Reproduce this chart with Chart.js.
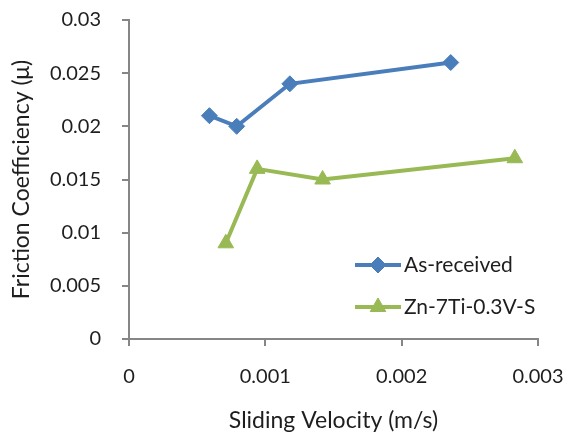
<!DOCTYPE html>
<html>
<head>
<meta charset="utf-8">
<script src="https://cdn.jsdelivr.net/npm/chart.js@4.4.1/dist/chart.umd.min.js"></script>
<style>
  html, body { margin: 0; padding: 0; background: #fff; }
  #wrap { width: 566px; height: 435px; position: relative; }
</style>
</head>
<body>
<div id="wrap"><canvas id="frictionChart"></canvas></div>
<script>
  // values
  const seriesNames = ["As-received", "Zn-7Ti-0.3V-S"];
  const asReceivedVelocity = [0.00059, 0.00079, 0.00118, 0.00236];
  const asReceivedFriction = [0.021, 0.020, 0.024, 0.026];
  const alloyVelocity = [0.00071, 0.00094, 0.00142, 0.00283];
  const alloyFriction = [0.009, 0.016, 0.015, 0.017];
  const xTicks = [0, 0.001, 0.002, 0.003];
  const yTicks = [0, 0.005, 0.01, 0.015, 0.02, 0.025, 0.03];

  const FONT = "Lato, 'Open Sans', sans-serif";
  const TEXT = "#1e1e1e";
  const AXIS_GRAY = "#868686";
  const BLUE = "#4A7EBB";
  const GREEN = "#98B954";

  function toPoints(xs, ys) {
    return xs.map((x, i) => ({ x: x, y: ys[i] }));
  }

  // legend drawn inside the plot, like the Excel original
  const insideLegend = {
    id: "insideLegend",
    afterDraw(chart) {
      const { ctx } = chart;
      const rows = [265, 307];
      chart.data.datasets.forEach((ds, i) => {
        const y = rows[i];
        ctx.save();
        ctx.strokeStyle = ds.borderColor;
        ctx.fillStyle = ds.borderColor;
        ctx.lineWidth = ds.borderWidth;
        ctx.beginPath();
        ctx.moveTo(355, y);
        ctx.lineTo(401, y);
        ctx.stroke();
        ctx.lineWidth = 1;
        Chart.helpers.drawPoint(ctx, {
          pointStyle: ds.pointStyle,
          radius: ds.pointRadius,
          borderWidth: 1
        }, 378, y);
        ctx.fillStyle = TEXT;
        ctx.font = "21px " + FONT;
        ctx.textAlign = "left";
        ctx.textBaseline = "middle";
        ctx.fillText(ds.label, 404, y);
        ctx.restore();
      });
    }
  };

  function fmt(v) {
    return String(Number(v.toFixed(4)));
  }

  new Chart(document.getElementById("frictionChart"), {
    type: "scatter",
    data: {
      datasets: [
        {
          label: seriesNames[0],
          data: toPoints(asReceivedVelocity, asReceivedFriction),
          showLine: true,
          borderColor: BLUE,
          backgroundColor: BLUE,
          pointBackgroundColor: BLUE,
          pointBorderColor: BLUE,
          borderWidth: 4,
          pointStyle: "rectRot",
          pointRadius: 8,
          pointBorderWidth: 1,
          tension: 0
        },
        {
          label: seriesNames[1],
          data: toPoints(alloyVelocity, alloyFriction),
          showLine: true,
          borderColor: GREEN,
          backgroundColor: GREEN,
          pointBackgroundColor: GREEN,
          pointBorderColor: GREEN,
          borderWidth: 4,
          pointStyle: "triangle",
          pointRadius: 9,
          pointBorderWidth: 1,
          tension: 0
        }
      ]
    },
    options: {
      responsive: true,
      maintainAspectRatio: false,
      animation: false,
      layout: { padding: { top: 20, right: 28, left: 0, bottom: 0 } },
      plugins: {
        legend: { display: false },
        tooltip: { enabled: false }
      },
      scales: {
        x: {
          type: "linear",
          min: 0,
          max: 0.003,
          afterBuildTicks(scale) {
            scale.ticks = xTicks.map(v => ({ value: v }));
          },
          afterFit(scale) {
            scale.height = 96;
            scale.paddingLeft = 0;
            scale.paddingRight = 0;
          },
          border: { color: AXIS_GRAY, width: 2 },
          grid: {
            drawOnChartArea: false,
            drawTicks: true,
            tickLength: 7,
            color: AXIS_GRAY,
            lineWidth: 2
          },
          ticks: {
            color: TEXT,
            font: { size: 20, family: FONT },
            padding: 19,
            maxRotation: 0,
            callback: v => fmt(v)
          },
          title: {
            display: true,
            text: "Sliding Velocity (m/s)",
            color: TEXT,
            font: { size: 23, family: FONT },
            padding: { top: 0, bottom: 1 }
          }
        },
        y: {
          type: "linear",
          min: 0,
          max: 0.03,
          afterBuildTicks(scale) {
            scale.ticks = yTicks.map(v => ({ value: v }));
          },
          afterFit(scale) {
            scale.width = 129;
            scale.paddingTop = 0;
            scale.paddingBottom = 0;
          },
          border: { color: AXIS_GRAY, width: 2 },
          grid: {
            drawOnChartArea: false,
            drawTicks: true,
            tickLength: 7,
            color: AXIS_GRAY,
            lineWidth: 2
          },
          ticks: {
            color: TEXT,
            font: { size: 20, family: FONT },
            padding: 21,
            callback: v => fmt(v)
          },
          title: {
            display: true,
            text: "Friction Coefficiency (μ)",
            color: TEXT,
            font: { size: 23, family: FONT },
            padding: { top: 8, bottom: 0 }
          }
        }
      }
    },
    plugins: [insideLegend]
  });
</script>
</body>
</html>
